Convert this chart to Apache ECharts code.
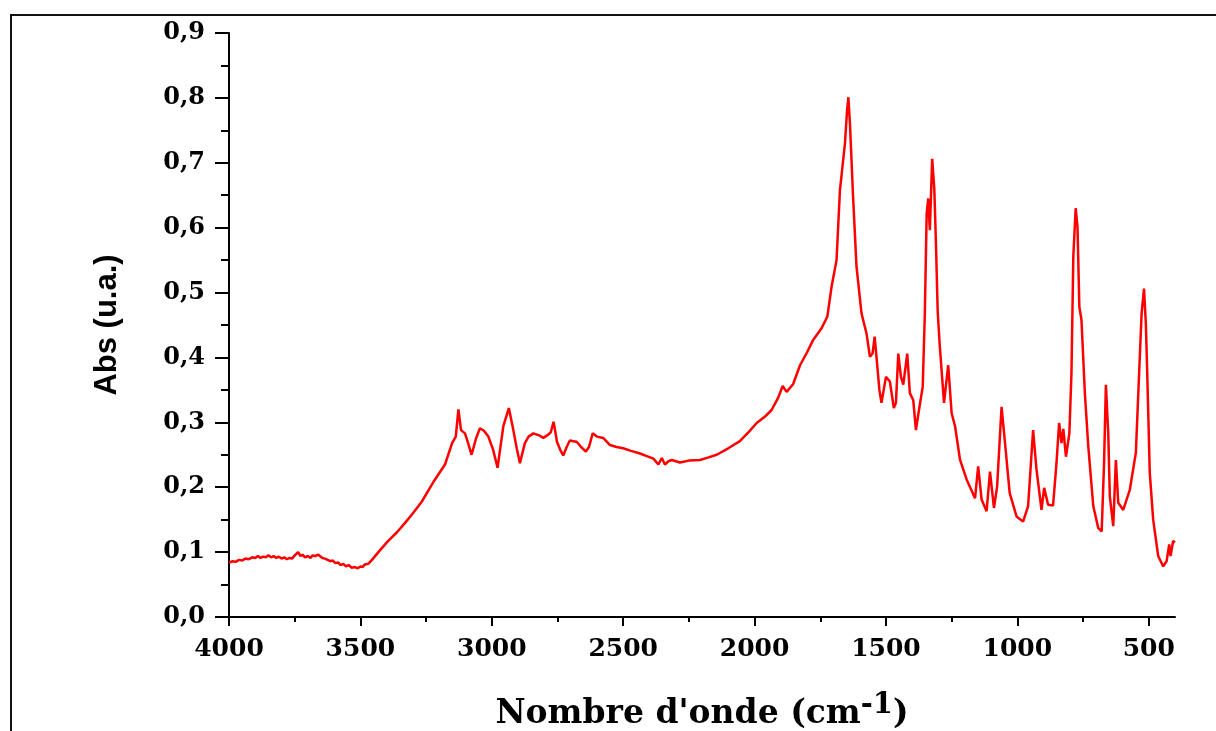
<!DOCTYPE html>
<html>
<head>
<meta charset="utf-8">
<script src="https://cdn.jsdelivr.net/npm/echarts@6/dist/echarts.min.js"></script>
<style>
  html, body { margin: 0; padding: 0; background: #fff; }
  #chart { width: 1216px; height: 731px; }
</style>
</head>
<body>
<div id="chart"></div>
<script>
var waveNumbers = [
  4000, 3985, 3975, 3962, 3950, 3938, 3925, 3912, 3900, 3890,
  3880, 3870, 3860, 3850, 3840, 3830, 3820, 3810, 3800, 3790,
  3780, 3770, 3760, 3752, 3745, 3737, 3728, 3720, 3711, 3700,
  3690, 3682, 3673, 3666, 3660, 3654, 3645, 3635, 3625, 3615,
  3605, 3595, 3585, 3575, 3565, 3555, 3545, 3533, 3521, 3510,
  3500, 3492, 3483, 3470, 3456,
  3425, 3395, 3360, 3330, 3300, 3266, 3240, 3216, 3178, 3151,
  3137, 3127, 3117, 3102, 3090, 3077, 3060, 3045, 3030, 3013,
  2995, 2978, 2965, 2956, 2935, 2918, 2905, 2893, 2874, 2860,
  2842, 2820, 2804, 2785, 2775, 2765, 2760, 2752, 2740, 2728,
  2715, 2703, 2690, 2677, 2660, 2642, 2630, 2616, 2600, 2576,
  2550, 2525, 2500, 2470, 2436, 2410, 2385, 2366, 2353, 2341,
  2328, 2315, 2284, 2250, 2208, 2175, 2144, 2100, 2056, 2020,
  1992, 1960, 1935, 1910, 1893, 1878, 1853, 1827, 1800, 1777,
  1745, 1723, 1707, 1688, 1675, 1656, 1648, 1643, 1637, 1625,
  1612, 1593, 1574, 1561, 1551, 1543, 1536, 1525, 1517, 1500,
  1485, 1478, 1470, 1462, 1453, 1443, 1434, 1419, 1409, 1396,
  1386, 1377, 1360, 1352, 1345, 1339, 1333, 1324, 1316, 1310,
  1303, 1295, 1279, 1263, 1250, 1237, 1218, 1193, 1161, 1149,
  1136, 1117, 1104, 1089, 1077, 1060, 1048, 1029, 1003, 978,
  959, 940, 927, 908, 898, 883, 864, 851, 841, 832,
  825, 815, 802, 794, 787, 778, 771, 764, 756, 743,
  730, 711, 692, 679, 670, 663, 654, 648, 635, 625,
  616, 597, 572, 549, 536, 527, 518, 511, 506, 496,
  483, 464, 445, 432, 422, 417, 407, 400
];
// absorbance (u.a.)
var absValues = [
  0.084, 0.086, 0.085, 0.088, 0.087, 0.090, 0.089, 0.092, 0.091, 0.094,
  0.091, 0.093, 0.092, 0.095, 0.092, 0.094, 0.091, 0.093, 0.090, 0.092,
  0.089, 0.091, 0.090, 0.094, 0.095, 0.100, 0.094, 0.096, 0.092, 0.094,
  0.091, 0.095, 0.094, 0.092, 0.096, 0.099, 0.091, 0.090, 0.088, 0.086,
  0.087, 0.083, 0.084, 0.080, 0.082, 0.078, 0.080, 0.076, 0.077, 0.075,
  0.078, 0.077, 0.081, 0.082, 0.088,
  0.103, 0.117, 0.131, 0.145, 0.160, 0.178, 0.196, 0.212, 0.235, 0.268,
  0.278, 0.320, 0.288, 0.283, 0.268, 0.250, 0.275, 0.291, 0.287, 0.278,
  0.258, 0.230, 0.268, 0.294, 0.322, 0.288, 0.260, 0.237, 0.268, 0.278,
  0.283, 0.280, 0.276, 0.281, 0.285, 0.301, 0.290, 0.270, 0.258, 0.249,
  0.262, 0.272, 0.271, 0.270, 0.262, 0.255, 0.262, 0.283, 0.278, 0.276,
  0.265, 0.262, 0.260, 0.256, 0.252, 0.248, 0.244, 0.235, 0.245, 0.235,
  0.240, 0.242, 0.238, 0.241, 0.242, 0.246, 0.250, 0.260, 0.271, 0.286,
  0.299, 0.309, 0.319, 0.338, 0.356, 0.347, 0.359, 0.388, 0.408, 0.427,
  0.445, 0.463, 0.509, 0.550, 0.658, 0.730, 0.780, 0.801, 0.760, 0.647,
  0.540, 0.468, 0.437, 0.401, 0.406, 0.432, 0.401, 0.350, 0.330, 0.370,
  0.363, 0.365, 0.322, 0.330, 0.406, 0.370, 0.358, 0.406, 0.345, 0.334,
  0.288, 0.312, 0.355, 0.468, 0.622, 0.645, 0.596, 0.706, 0.660, 0.580,
  0.470, 0.417, 0.330, 0.388, 0.314, 0.294, 0.242, 0.212, 0.183, 0.232,
  0.181, 0.163, 0.224, 0.168, 0.201, 0.324, 0.273, 0.191, 0.155, 0.147,
  0.171, 0.288, 0.227, 0.165, 0.199, 0.173, 0.172, 0.237, 0.299, 0.268,
  0.290, 0.247, 0.283, 0.376, 0.555, 0.630, 0.601, 0.478, 0.458, 0.345,
  0.263, 0.171, 0.137, 0.132, 0.237, 0.358, 0.283, 0.186, 0.140, 0.242,
  0.176, 0.165, 0.196, 0.253, 0.381, 0.468, 0.506, 0.453, 0.381, 0.222,
  0.150, 0.094, 0.078, 0.086, 0.112, 0.094, 0.117, 0.115
];
// graduations
var xMajorTicks = [500, 1000, 1500, 2000, 2500, 3000, 3500, 4000];
var xMinorTicks = [750, 1250, 1750, 2250, 2750, 3250, 3750];

var chart = echarts.init(document.getElementById('chart'));
var serif = 'DejaVu Serif';

var points = waveNumbers.map(function (w, i) { return [w, absValues[i]]; });

var option = {
  animation: false,
  backgroundColor: '#fff',
  grid: { left: 229, right: 41, top: 33, bottom: 114, outerBoundsMode: 'none' },
  xAxis: [{
    type: 'value',
    min: 400,
    max: 4000,
    inverse: true,
    name: "{a|Nombre d'onde (cm}{s|-1}{a|)}",
    nameLocation: 'middle',
    nameGap: 74,
    nameTextStyle: {
      rich: {
        a: { fontFamily: serif, fontWeight: 'bold', fontSize: 33, color: '#000', lineHeight: 40, verticalAlign: 'bottom' },
        s: { fontFamily: serif, fontWeight: 'bold', fontSize: 29, color: '#000', lineHeight: 40, verticalAlign: 'top', padding: [0, 0, 14, 0] }
      }
    },
    axisLine: { onZero: false, lineStyle: { color: '#000', width: 2 } },
    axisTick: { customValues: xMajorTicks, length: 9, lineStyle: { color: '#000', width: 2 } },
    axisLabel: {
      customValues: xMajorTicks,
      margin: 20,
      fontFamily: serif, fontWeight: 'bold', fontSize: 25, color: '#000',
      formatter: function (v) { return String(v); }
    },
    splitLine: { show: false }
  }, {
    // petites graduations
    type: 'value',
    min: 400,
    max: 4000,
    inverse: true,
    position: 'bottom',
    axisLine: { show: false, onZero: false },
    axisTick: { customValues: xMinorTicks, length: 5, lineStyle: { color: '#000', width: 2 } },
    axisLabel: { show: false },
    splitLine: { show: false }
  }],
  yAxis: {
    type: 'value',
    min: 0,
    max: 0.9,
    interval: 0.1,
    name: 'Abs (u.a.)',
    nameLocation: 'middle',
    nameGap: 106,
    nameTextStyle: { fontFamily: 'Liberation Sans', fontWeight: 'bold', fontSize: 31, color: '#000' },
    axisLine: { show: true, lineStyle: { color: '#000', width: 2 } },
    axisTick: { show: true, length: 14, lineStyle: { color: '#000', width: 2 } },
    minorTick: { show: true, splitNumber: 2, length: 8, lineStyle: { color: '#000', width: 2 } },
    axisLabel: {
      margin: 24,
      fontFamily: serif, fontWeight: 'bold', fontSize: 24, color: '#000',
      formatter: function (v) { return v.toFixed(1).replace('.', ','); }
    },
    splitLine: { show: false }
  },
  graphic: [{
    type: 'polyline',
    shape: { points: [[11, 735], [11, 15], [1220, 15]] },
    style: { stroke: '#111', lineWidth: 2, fill: null }
  }],
  series: [{
    type: 'line',
    xAxisIndex: 0,
    data: points,
    showSymbol: false,
    smooth: false,
    lineStyle: { color: '#ff0000', width: 2.5 }
  }]
};

chart.setOption(option);
</script>
</body>
</html>
